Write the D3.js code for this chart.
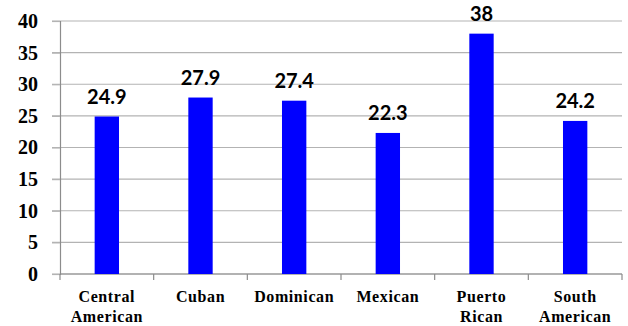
<!DOCTYPE html>
<html>
<head>
<meta charset="utf-8">
<script src="https://cdn.jsdelivr.net/npm/d3@7"></script>
<style>
  html, body { margin: 0; padding: 0; background: #fff; }
  svg { display: block; }
  .serif { font-family: "Liberation Serif", "Times New Roman", "DejaVu Serif", serif; font-weight: bold; }
  .val { font-family: Lato, "Open Sans", sans-serif; font-weight: bold; }
</style>
</head>
<body>
<svg id="chart" width="628" height="326"></svg>
<script>
// Median age by Hispanic origin group
const categories = [["Central", "American"], ["Cuban"], ["Dominican"], ["Mexican"], ["Puerto", "Rican"], ["South", "American"]];
const values = [24.9, 27.9, 27.4, 22.3, 38, 24.2];
const yTicks = [0, 5, 10, 15, 20, 25, 30, 35, 40];

const svg = d3.select("#chart");
const plotLeft = 60, plotRight = 622, plotTop = 21, plotBottom = 274;

const keys = categories.map(c => c.join(" "));
const x = d3.scaleBand().domain(keys).range([plotLeft, plotRight]).paddingInner(0.74).paddingOuter(0.37);
const y = d3.scaleLinear().domain([0, 40]).range([plotBottom, plotTop]);

// Horizontal gridlines
svg.append("g")
  .selectAll("line")
  .data(yTicks)
  .join("line")
  .attr("x1", plotLeft - 8).attr("x2", plotRight)
  .attr("y1", d => y(d)).attr("y2", d => y(d))
  .attr("stroke", "#b3b3b3").attr("stroke-width", 1.2);

// Y axis
const yAxis = svg.append("g")
  .attr("transform", `translate(${plotLeft},0)`)
  .call(d3.axisLeft(y).tickValues(yTicks).tickSize(8).tickPadding(14));
yAxis.attr("font-family", null).attr("font-size", null);
yAxis.select(".domain").attr("stroke", "#8c8c8c").attr("stroke-width", 1.2);
yAxis.selectAll(".tick line").attr("stroke", "#b3b3b3").attr("stroke-width", 1.2);
yAxis.selectAll(".tick text")
  .attr("class", "serif")
  .style("font-size", "20px")
  .attr("fill", "#000");

// X axis baseline with boundary ticks between categories
const bounds = d3.range(keys.length + 1).map(i => plotLeft + i * x.step());
svg.append("line")
  .attr("x1", plotLeft).attr("x2", plotRight)
  .attr("y1", plotBottom).attr("y2", plotBottom)
  .attr("stroke", "#8c8c8c").attr("stroke-width", 1.2);
svg.append("g")
  .selectAll("line")
  .data(bounds)
  .join("line")
  .attr("x1", d => d).attr("x2", d => d)
  .attr("y1", plotBottom).attr("y2", plotBottom + 6)
  .attr("stroke", "#8c8c8c").attr("stroke-width", 1.2);

// Bars
svg.append("g")
  .selectAll("rect")
  .data(values)
  .join("rect")
  .attr("x", (d, i) => x(keys[i]))
  .attr("width", x.bandwidth())
  .attr("y", d => y(d))
  .attr("height", d => y(0) - y(d))
  .attr("fill", "#0000ff");

// Value labels
svg.append("g")
  .selectAll("text")
  .data(values)
  .join("text")
  .attr("class", "val")
  .attr("x", (d, i) => x(keys[i]) + x.bandwidth() / 2)
  .attr("y", d => y(d) - 13)
  .attr("text-anchor", "middle")
  .style("font-size", "20px")
  .attr("fill", "#000")
  .text(d => d);

// Category labels
const cat = svg.append("g")
  .selectAll("text")
  .data(categories)
  .join("text")
  .attr("class", "serif")
  .attr("x", (d, i) => x(keys[i]) + x.bandwidth() / 2)
  .attr("y", 302)
  .attr("text-anchor", "middle")
  .style("font-size", "16px")
  .style("letter-spacing", "0.6px")
  .attr("fill", "#000");
cat.selectAll("tspan")
  .data(d => d)
  .join("tspan")
  .attr("x", function () { return this.parentNode.getAttribute("x"); })
  .attr("dy", (d, i) => i === 0 ? 0 : 20)
  .text(d => d);
</script>
</body>
</html>
